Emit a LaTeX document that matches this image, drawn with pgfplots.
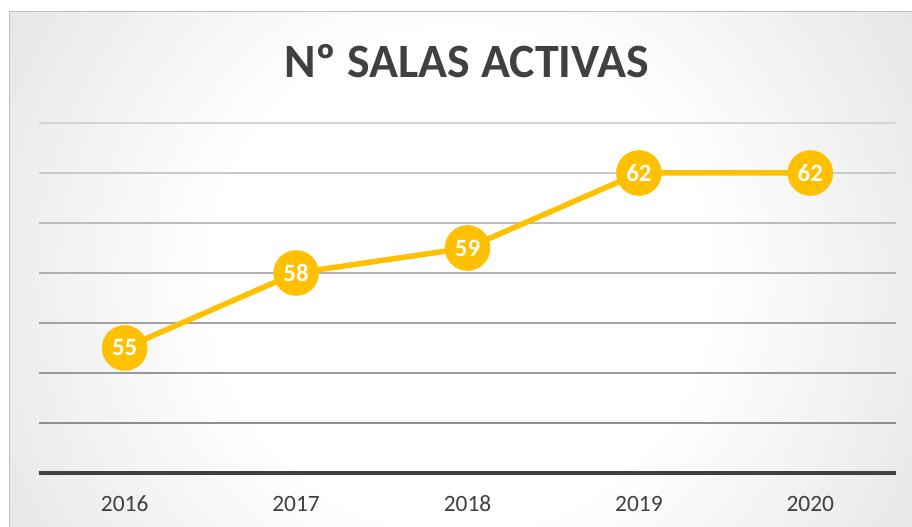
\documentclass[border=0pt]{standalone}
\usepackage{pgfplots}
\pgfplotsset{compat=1.18}
\usepackage{fontspec}
\setmainfont{Carlito}
\definecolor{cYel}{HTML}{FFC000}
\definecolor{cTxt}{HTML}{404040}
\definecolor{cBord}{HTML}{BFBFBF}
\definecolor{gA}{HTML}{D4D4D4}
\definecolor{gB}{HTML}{C9C9C9}
\definecolor{gC}{HTML}{BDBDBD}
\definecolor{gD}{HTML}{B0B0B0}
\definecolor{gE}{HTML}{A3A3A3}
\definecolor{gF}{HTML}{999999}
\definecolor{gG}{HTML}{8F8F8F}
\definecolor{s1}{HTML}{E7E7E7}
\definecolor{s2}{HTML}{D2D2D2}
\definecolor{s3}{HTML}{C8C8C8}
\definecolor{s4}{HTML}{C0C0C0}
\pgfdeclareradialshading{excelbg}{\pgfpoint{0bp}{0bp}}{color(0bp)=(white); color(12bp)=(white); color(25bp)=(s1); color(43bp)=(s2); color(50bp)=(s3); color(71bp)=(s4)}
\begin{document}
\begin{tikzpicture}[x=1bp,y=1bp]
\useasboundingbox (0,0) rectangle (912,527);
\begin{scope}
\clip (9,0) rectangle (912,515.5);
\shade[shading=excelbg] (-60,-273) rectangle (980,767);
\end{scope}
\draw[cBord, line width=1bp] (9,0) -- (9,515.5) -- (912,515.5);
\node[font=\bfseries\fontsize{48}{56}\selectfont, text=cTxt, anchor=base, inner sep=0] at (466.5,449) {Nº SALAS ACTIVAS};
\begin{axis}[
  at={(39bp,54bp)}, anchor=south west,
  scale only axis, width=857bp, height=350bp,
  xmin=-0.5, xmax=4.5, ymin=50, ymax=64,
  axis line style={draw=none},
  major tick length=0pt,
  ytick=\empty,
  xtick={0,1,2,3,4},
  xticklabels={2016,2017,2018,2019,2020},
  xticklabel style={font=\fontsize{23.5}{28}\selectfont, text=cTxt, anchor=base, yshift=-39bp},
  /pgf/number format/assume math mode=true,
  clip=false,
  nodes near coords,
  nodes near coords align={center},
  every node near coord/.append style={font=\bfseries\fontsize{25}{29}\selectfont, text=white, anchor=center},
]
\draw[gA, line width=1.5bp] (axis cs:-0.5,64) -- (axis cs:4.5,64);
\draw[gB, line width=1.5bp] (axis cs:-0.5,62) -- (axis cs:4.5,62);
\draw[gC, line width=1.5bp] (axis cs:-0.5,60) -- (axis cs:4.5,60);
\draw[gD, line width=1.5bp] (axis cs:-0.5,58) -- (axis cs:4.5,58);
\draw[gE, line width=1.5bp] (axis cs:-0.5,56) -- (axis cs:4.5,56);
\draw[gF, line width=1.5bp] (axis cs:-0.5,54) -- (axis cs:4.5,54);
\draw[gG, line width=1.5bp] (axis cs:-0.5,52) -- (axis cs:4.5,52);
\draw[cTxt, line width=4bp] (axis cs:-0.5,50) -- (axis cs:4.5,50);
\addplot[cYel, line width=5.5bp, mark=*, mark size=22.5bp, mark options={solid, fill=cYel, draw=cYel, line width=0.5bp}]
  coordinates {(0,55) (1,58) (2,59) (3,62) (4,62)};
\end{axis}
\end{tikzpicture}
\end{document}
